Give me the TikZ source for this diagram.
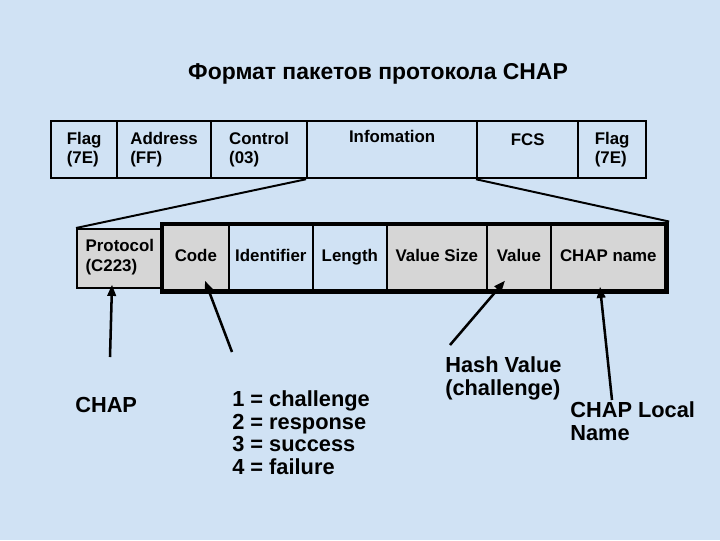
\documentclass[tikz,border=0pt]{standalone}
\usepackage{fontspec}
\setmainfont{Liberation Sans}
\usetikzlibrary{arrows.meta,calc,fit}
\newlength\pxu
\setlength\pxu{0.025cm}
\definecolor{bgblue}{RGB}{208,226,244}
\definecolor{cellgray}{RGB}{214,214,214}

\begin{document}
\begin{tikzpicture}[
    x=0.025cm, y=-0.025cm,
    every node/.style={font=\bfseries\fontsize{12}{14}\selectfont},
    fld/.style={draw, line width=1.6pt, anchor=north west, inner sep=0pt,
                align=left, minimum height=57\pxu},
    sub/.style={draw, line width=1.2pt, anchor=north west, inner sep=0pt,
                align=left, minimum height=66\pxu,
                execute at begin node=\strut},
    gry/.style={fill=cellgray},
    lbl/.style={font=\bfseries\fontsize{15.5}{16.3}\selectfont, align=left,
                inner sep=0pt, anchor=north west},
    fan/.style={line width=1.4pt},
    ptr/.style={-{Triangle[length=8pt,width=6pt]}, line width=1.8pt}
  ]
  % Background
  \fill[bgblue] (0,0) rectangle (720,540);
  \useasboundingbox (0,0) rectangle (720,540);

  % Title
  \node[font=\bfseries\fontsize{16.3}{19}\selectfont] (title) at (378,74)
    {Формат пакетов протокола CHAP};

  % PPP frame
  \node[fld, minimum width=66\pxu]  (flaga) at (50,120)  {Flag\\(7E)};
  \node[fld, minimum width=94\pxu]  (addr)  at (116,120) {Address\\(FF)};
  \node[fld, minimum width=96\pxu]  (ctrl)  at (210,120) {Control\\(03)};
  \node[fld, minimum width=170\pxu, align=center] (info) at (306,120) {Infomation\\\strut};
  \node[fld, minimum width=101\pxu, align=center] (fcs)  at (476,120) {FCS\\[-4pt]\strut};
  \node[fld, minimum width=68\pxu]  (flagb) at (577,120) {Flag\\(7E)};

  % CHAP packet
  \node[sub, gry, minimum width=86\pxu, minimum height=59\pxu] (proto) at (76,228)
    {Protocol\\(C223)};
  \node[sub, gry, minimum width=66\pxu]  (code)  at (162,224) {Code};
  \node[sub,      minimum width=84\pxu]  (ident) at (228,224) {Identifier};
  \node[sub,      minimum width=74\pxu]  (len)   at (312,224) {Length};
  \node[sub, gry, minimum width=100\pxu] (vsize) at (386,224) {Value Size};
  \node[sub, gry, minimum width=64\pxu]  (value) at (486,224) {Value};
  \node[sub, gry, minimum width=115\pxu] (cname) at (550,224) {CHAP name};
  \node[fit=(code)(cname), draw, line width=3.5pt, inner sep=0pt] (chapbox) {};

  % Information field expanded
  \draw[fan] (info.south west) -- (proto.north west);
  \draw[fan] (fcs.south west) -- (chapbox.north east);

  % Labels
  \node[lbl, anchor=west] (lchap) at (75,405) {CHAP};
  \node[lbl] (lcode) at (232,390)
    {1 = challenge\\2 = response\\3 = success\\4 = failure};
  \node[lbl] (lhash) at (445,356) {Hash Value\\(challenge)};
  \node[lbl] (lname) at (570,401) {CHAP Local\\Name};

  % Pointers
  \coordinate (tchap) at (110,357);
  \coordinate (tcode) at (232,352);
  \coordinate (thash) at (450,345);
  \coordinate (tname) at (612,400);
  \draw[ptr] (tchap) -- ($(proto.south west)+(36,-4)$);
  \draw[ptr] (tcode) -- ($(code.south west)+(43,-11)$);
  \draw[ptr] (thash) -- ($(value.south west)+(19,-11)$);
  \draw[ptr] (tname) -- ($(cname.south west)+(50,-5)$);
\end{tikzpicture}
\end{document}
